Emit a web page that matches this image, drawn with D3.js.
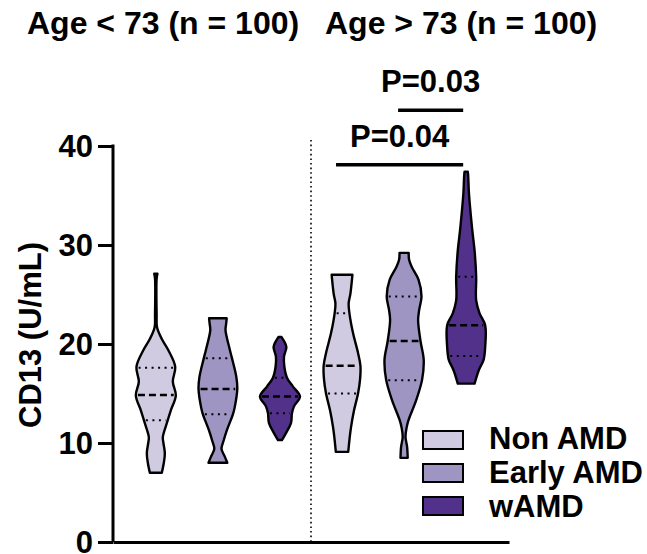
<!DOCTYPE html>
<html>
<head>
<meta charset="utf-8">
<script src="https://cdn.jsdelivr.net/npm/d3@7"></script>
<style>
  body { margin: 0; background: #fff; }
  svg text { font-family: "Liberation Sans", Arial, sans-serif; font-weight: bold; fill: #000; }
</style>
</head>
<body>
<div id="chart"></div>
<script>
// groups and categories
const groups = ["Age < 73 (n = 100)", "Age > 73 (n = 100)"]
const categories = ["Non AMD", "Early AMD", "wAMD"]
const yTicks = [0, 10, 20, 30, 40]

// violin outlines: [CD13 value, relative width]
const nonAmdYoung = [[7.0,0.30],[8.0,0.40],[9.0,0.45],[10.0,0.38],[10.6,0.35],[12.0,0.55],[13.3,0.75],[14.8,1.0],[16.2,0.85],[17.7,0.97],[19.4,0.62],[20.5,0.3],[21.7,0.06],[23.0,0.04],[26.6,0.04],[27.1,0.08]]
const earlyAmdYoung = [[8.0,0.47],[8.6,0.35],[9.4,0.18],[10.2,0.28],[11.3,0.45],[12.9,0.75],[13.6,0.84],[15.5,0.97],[16.7,0.92],[18.6,0.7],[19.4,0.6],[21.4,0.38],[22.0,0.41],[22.6,0.44]]
const wAmdYoung = [[10.3,0.1],[11.0,0.3],[12.0,0.55],[13.0,0.6],[13.7,0.7],[14.7,1.0],[15.7,0.65],[16.6,0.35],[17.7,0.22],[18.7,0.2],[19.7,0.32],[20.3,0.2],[20.7,0.08]]
const nonAmdOld = [[9.1,0.31],[10.5,0.38],[11.6,0.45],[13.3,0.6],[15.0,0.8],[16.4,0.9],[17.8,0.92],[19.1,0.8],[21.1,0.55],[23.1,0.37],[24.1,0.33],[25.1,0.42],[27.0,0.52]]
const earlyAmdOld = [[8.5,0.18],[9.6,0.15],[10.6,0.07],[11.5,0.12],[12.3,0.22],[14.3,0.6],[16.4,0.9],[18.4,0.98],[20.3,0.82],[22.4,0.7],[23.4,0.75],[24.8,0.87],[26.5,0.72],[27.8,0.38],[28.5,0.25],[29.2,0.23]]
const wAmdOld = [[16.0,0.42],[17.4,0.64],[18.4,0.87],[19.7,0.95],[21.9,0.95],[23.1,0.67],[24.4,0.5],[26.8,0.5],[29.2,0.43],[31.8,0.29],[35.2,0.14],[37.0,0.1],[37.4,0.08]]

// median and quartiles per violin
const medians = [14.85, 15.45, 14.7, 17.8, 20.3, 21.9]
const q1 = [12.3, 12.9, 13.0, 15.0, 16.35, 18.8]
const q3 = [17.6, 18.55, 16.6, 23.1, 24.8, 26.8]

// comparisons: [from violin, to violin, label, bar level]
const comparisons = [[3, 5, "P=0.04", 38.1], [4, 5, "P=0.03", 43.6]]

const profiles = [nonAmdYoung, earlyAmdYoung, wAmdYoung, nonAmdOld, earlyAmdOld, wAmdOld]
const colors = ["#d1cbe1", "#9f95c3", "#51318a"]

const width = 647, height = 554

const svg = d3.select("#chart").append("svg")
    .attr("width", width)
    .attr("height", height)

const y = d3.scaleLinear().domain([0, 40]).range([542, 146])
const x = d3.scalePoint().domain(d3.range(6)).range([113, 509]).padding(0.69)
const w = d3.scaleLinear().domain([0, 1]).range([0, 20])

// half width at a given value, linear on the outline
function halfWidth(profile, v) {
    const i = d3.bisector(d => d[0]).left(profile, v)
    if (i <= 0) return w(profile[0][1])
    if (i >= profile.length) return w(profile[profile.length - 1][1])
    const a = profile[i - 1], b = profile[i]
    const t = (v - a[0]) / (b[0] - a[0])
    return w(a[1] + t * (b[1] - a[1]))
}

// divider between age groups
const midX = (x(2) + x(3)) / 2
svg.append("line")
    .attr("x1", midX).attr("x2", midX)
    .attr("y1", 140).attr("y2", y(0))
    .attr("stroke", "#000")
    .attr("stroke-width", 1.6)
    .attr("stroke-dasharray", "1.6,3")

// violins
profiles.forEach((profile, i) => {
    const cx = x(i)
    const g = svg.append("g")

    const area = d3.area()
        .y(d => y(d[0]))
        .x0(d => cx - w(d[1]))
        .x1(d => cx + w(d[1]))
        .curve(d3.curveCatmullRom)

    g.append("path")
        .attr("d", area(profile))
        .attr("fill", colors[i % 3])
        .attr("stroke", "#000")
        .attr("stroke-width", 2.4)
        .attr("stroke-linejoin", "round")

    const lineAt = (v, dash, sw) => {
        const hw = Math.max(0, halfWidth(profile, v) - 2)
        g.append("line")
            .attr("x1", cx - hw).attr("x2", cx + hw)
            .attr("y1", y(v)).attr("y2", y(v))
            .attr("stroke", "#000")
            .attr("stroke-width", sw)
            .attr("stroke-dasharray", dash)
    }
    lineAt(medians[i], "7,4", 2.6)
    lineAt(q1[i], "2,4.5", 2)
    lineAt(q3[i], "2,4.5", 2)
})

// y axis
const yAxis = svg.append("g")
    .attr("transform", `translate(${113},0)`)
    .call(d3.axisLeft(y).tickValues(yTicks).tickSize(15).tickSizeOuter(0).tickPadding(5))
yAxis.select(".domain").attr("stroke-width", 3).attr("d", `M0,${y(0)}V${y(40) - 1.5}`)
yAxis.selectAll(".tick line").attr("stroke-width", 3)
yAxis.selectAll(".tick text")
    .style("font-size", "31px")
    .attr("dy", "0.34em")

// x axis line
const xAxis = svg.append("g")
    .attr("transform", `translate(0,${y(0)})`)
    .call(d3.axisBottom(x).tickSize(0).tickFormat(""))
xAxis.select(".domain").attr("stroke-width", 3)

// y label
svg.append("text")
    .attr("transform", `translate(41,335) rotate(-90)`)
    .attr("text-anchor", "middle")
    .style("font-size", "31px")
    .text("CD13 (U/mL)")

// group titles
svg.append("text").attr("x", 27).attr("y", 34).style("font-size", "32px").text(groups[0])
svg.append("text").attr("x", 325).attr("y", 34).style("font-size", "32px").text(groups[1])

// significance brackets
comparisons.forEach(c => {
    const x1 = x(c[0]) - 6, x2 = x(c[1]) - 3
    svg.append("line")
        .attr("x1", x1).attr("x2", x2)
        .attr("y1", y(c[3])).attr("y2", y(c[3]))
        .attr("stroke", "#000")
        .attr("stroke-width", 3.5)
    svg.append("text")
        .attr("x", (x1 + x2) / 2)
        .attr("y", y(c[3]) - 18)
        .attr("text-anchor", "middle")
        .style("font-size", "31px")
        .text(c[2])
})

// legend
const legend = svg.append("g")
categories.forEach((cat, i) => {
    legend.append("rect")
        .attr("x", 423).attr("y", 431 + i * 33)
        .attr("width", 40).attr("height", 18)
        .attr("fill", colors[i])
        .attr("stroke", "#000")
        .attr("stroke-width", 2)
    legend.append("text")
        .attr("x", 489).attr("y", 449 + i * 34)
        .style("font-size", "31px")
        .text(cat)
})
</script>
</body>
</html>
